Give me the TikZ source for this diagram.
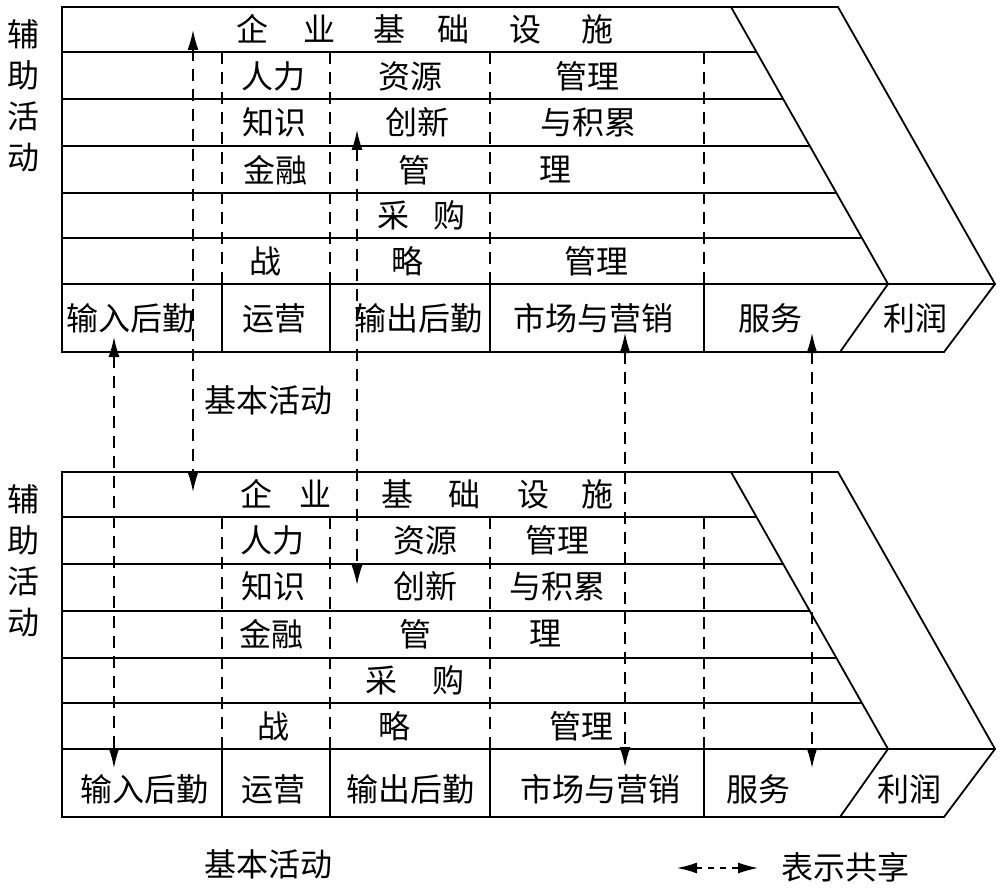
\documentclass[tikz,border=0pt]{standalone}
\usepackage{fontspec}
\setmainfont{Noto Sans CJK SC}
\usetikzlibrary{calc,arrows.meta}
\tikzset{
  frm/.style={line width=0.9pt},
  sep/.style={line width=0.7pt, dash pattern=on 6pt off 4pt},
  shr/.style={line width=0.7pt, dash pattern=on 6pt off 4pt, {Latex[length=10pt,width=5.5pt]}-{Latex[length=10pt,width=5.5pt]}},
  txt/.style={inner sep=0pt, font=\fontsize{16}{19}\selectfont},
  side/.style={inner sep=0pt, align=center, font=\fontsize{16}{20.5}\selectfont}}

\begin{document}
\begin{tikzpicture}[x=0.5pt, y=-0.5pt]
\useasboundingbox (0,0) rectangle (1004,887);
\foreach \oy in {0,465}{
  \begin{scope}[shift={(0,\oy)}]
  \draw[frm] (62,7) -- (838,7) -- (995,284) -- (944,352) -- (62,352) -- cycle;
  \draw[frm] (731,7) -- (888,284) -- (840,352);
  \draw[frm] (62,284) -- (995,284);
  \foreach \yy in {52,99,146,193,238}
    \draw[frm] (62,\yy) -- ($(731,7)!{(\yy-7)/277}!(888,284)$);
  \foreach \xx in {222,330,490,704}{
    \draw[sep] (\xx,52) -- (\xx,284);
    \draw[frm] (\xx,284) -- (\xx,352);}
  \end{scope}}
% upper chain
\node[side] (tside) at (23,96) {辅\\助\\活\\动};
\node[txt] (tinf) at (425,29.5) {企\hspace{1.1em}业\hspace{1.2em}基\hspace{1em}础\hspace{1.25em}设\hspace{1.25em}施};
\node[txt] (thr1) at (273,76) {人力};
\node[txt] (thr2) at (410,76) {资源};
\node[txt] (thr3) at (587,76) {管理};
\node[txt] (tkn1) at (274,122.5) {知识};
\node[txt] (tkn2) at (417,122.5) {创新};
\node[txt] (tkn3) at (588,122.5) {与积累};
\node[txt] (tfi1) at (275,170) {金融};
\node[txt] (tfi2) at (414,170) {管};
\node[txt] (tfi3) at (555,170) {理};
\node[txt] (tbuy) at (421,215.5) {采\hspace{0.75em}购};
\node[txt] (tst1) at (265,261.5) {战};
\node[txt] (tst2) at (407,261.5) {略};
\node[txt] (tst3) at (596,261.5) {管理};
\node[txt] (tin) at (130,318) {输入后勤};
\node[txt] (top) at (274,318) {运营};
\node[txt] (tout) at (418,318) {输出后勤};
\node[txt] (tmkt) at (593,318) {市场与营销};
\node[txt] (tsrv) at (770,318) {服务};
\node[txt] (tpro) at (915,318) {利润};
\node[txt] (tbase) at (268,400) {基本活动};
% lower chain
\node[side] (bside) at (23,561) {辅\\助\\活\\动};
\node[txt] (binf) at (427,494) {企\hspace{0.85em}业\hspace{1.55em}基\hspace{1.1em}础\hspace{1.15em}设\hspace{1em}施};
\node[txt] (bhr1) at (272,540) {人力};
\node[txt] (bhr2) at (425,540) {资源};
\node[txt] (bhr3) at (557,540) {管理};
\node[txt] (bkn1) at (273,586.5) {知识};
\node[txt] (bkn2) at (425,586.5) {创新};
\node[txt] (bkn3) at (557,586.5) {与积累};
\node[txt] (bfi1) at (271,634) {金融};
\node[txt] (bfi2) at (415,634) {管};
\node[txt] (bfi3) at (545,634) {理};
\node[txt] (bbuy) at (415,680) {采\hspace{1.1em}购};
\node[txt] (bst1) at (273,726) {战};
\node[txt] (bst2) at (394,726) {略};
\node[txt] (bst3) at (581,726) {管理};
\node[txt] (bin) at (144,789) {输入后勤};
\node[txt] (bop) at (273,789) {运营};
\node[txt] (bout) at (410,789) {输出后勤};
\node[txt] (bmkt) at (600,789) {市场与营销};
\node[txt] (bsrv) at (758,789) {服务};
\node[txt] (bpro) at (909,789) {利润};
\node[txt] (bbase) at (268,864) {基本活动};
% sharing
\coordinate (a1) at (193,30);  \coordinate (a2) at (193,492);
\coordinate (b1) at (357,130); \coordinate (b2) at (357,585);
\coordinate (c1) at (114,337); \coordinate (c2) at (114,768);
\coordinate (d1) at (625,333); \coordinate (d2) at (625,767);
\coordinate (e1) at (812,333); \coordinate (e2) at (812,768);
\draw[shr] (a1) -- (a2);
\draw[shr] (b1) -- (b2);
\draw[shr] (c1) -- (c2);
\draw[shr] (d1) -- (d2);
\draw[shr] (e1) -- (e2);
\coordinate (k1) at (677,868); \coordinate (k2) at (758,868);
\draw[shr, dash pattern=on 3pt off 3pt] (k1) -- (k2);
\node[txt] (key) at (845,867) {表示共享};
\end{tikzpicture}
\end{document}
